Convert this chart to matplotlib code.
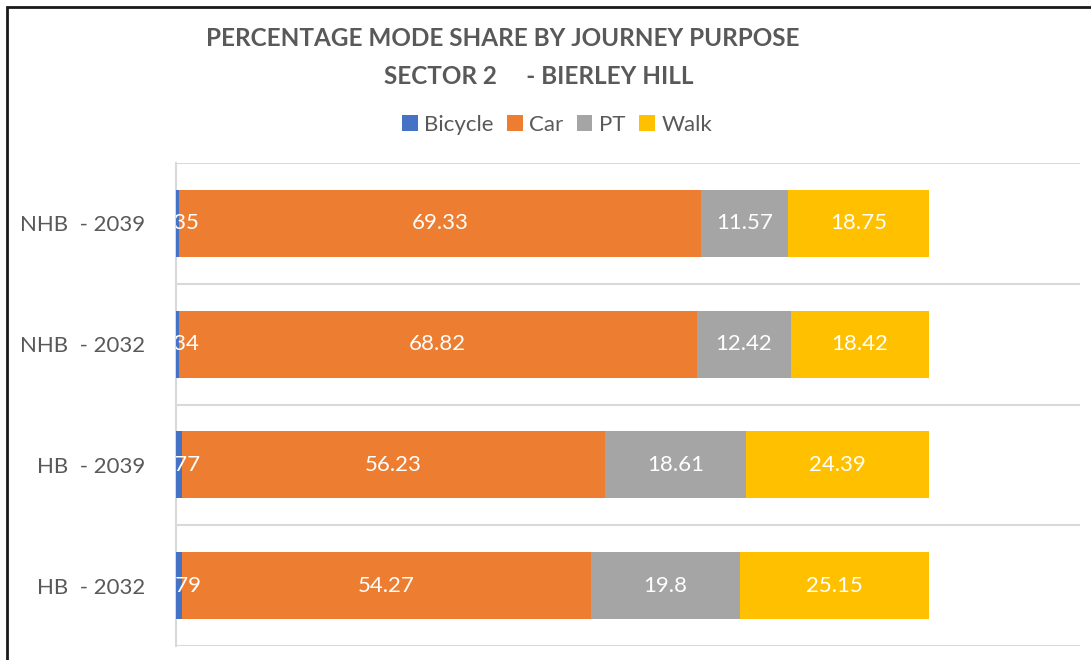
"""
Percentage mode share by journey purpose - Sector 2, Bierley Hill
"""
import matplotlib
matplotlib.use('Agg')
import matplotlib.pyplot as plt
from matplotlib.patches import Rectangle
import numpy as np

plt.rcParams['font.family'] = ['Lato', 'DejaVu Sans']

# Du lieu (tu duoi len tren)
categories = ['HB  - 2032', 'HB  - 2039', 'NHB  - 2032', 'NHB  - 2039']
modes = ['Bicycle', 'Car', 'PT', 'Walk']
bicycle = [0.79, 0.77, 0.34, 0.35]
car = [54.27, 56.23, 68.82, 69.33]
pt = [19.8, 18.61, 12.42, 11.57]
walk = [25.15, 24.39, 18.42, 18.75]
colors = ['#4472C4', '#ED7D31', '#A5A5A5', '#FFC000']

W, H = 1091, 660
fig = plt.figure(figsize=(W / 100, H / 100), dpi=100)
ax = fig.add_axes([176 / W, 1 - 646 / H, (1080 - 176) / W, (646 - 163) / H])

# Vien ngoai cua chart
fig.patches.append(Rectangle((7 / W, -0.1), 1.2, 1 - 6.5 / H + 0.1, transform=fig.transFigure,
                             fill=False, edgecolor='#1a1a1a', linewidth=2))

y = np.arange(len(categories))
left = np.zeros(len(categories))
grid_c = '#D9D9D9'
for name, vals, c in zip(modes, [bicycle, car, pt, walk], colors):
    vals = np.array(vals)
    ax.barh(y, vals, left=left, height=0.555, color=c, label=name, zorder=3)
    for yi, l, v in zip(y, left, vals):
        ax.text(l + v / 2, yi, f'{v:g}', ha='center', va='center', color='white',
                fontsize=16, clip_on=True, zorder=4)
    left += vals

ax.set_xlim(0, 120)
ax.set_ylim(-0.5, len(categories) - 0.5)
for b in np.arange(-0.5, len(categories), 1.0):
    ax.axhline(b, color=grid_c, linewidth=1.5, zorder=1)
ax.set_yticks(y)
ax.set_yticklabels(categories, fontsize=16, color='#595959')
ax.tick_params(axis='y', length=0, pad=22)
ax.set_xticks([])
for s in ['top', 'right', 'bottom']:
    ax.spines[s].set_visible(False)
ax.spines['left'].set_color(grid_c)
ax.spines['left'].set_linewidth(1.5)

# Tieu de
fig.text(503 / W, 1 - 38 / H, 'PERCENTAGE MODE SHARE BY JOURNEY PURPOSE', ha='center', va='center',
         fontsize=17.5, fontweight='bold', color='#595959')
fig.text(539 / W, 1 - 76 / H, 'SECTOR 2     - BIERLEY HILL', ha='center', va='center',
         fontsize=17.5, fontweight='bold', color='#595959')

handles, labels = ax.get_legend_handles_labels()
fig.legend(handles, labels, loc='center', bbox_to_anchor=(557 / W, 1 - 125 / H), ncol=4,
           frameon=False, fontsize=16, labelcolor='#595959', handlelength=0.7,
           handleheight=0.7, handletextpad=0.3, columnspacing=0.6)

plt.savefig('out.png', dpi=100)
plt.close()
